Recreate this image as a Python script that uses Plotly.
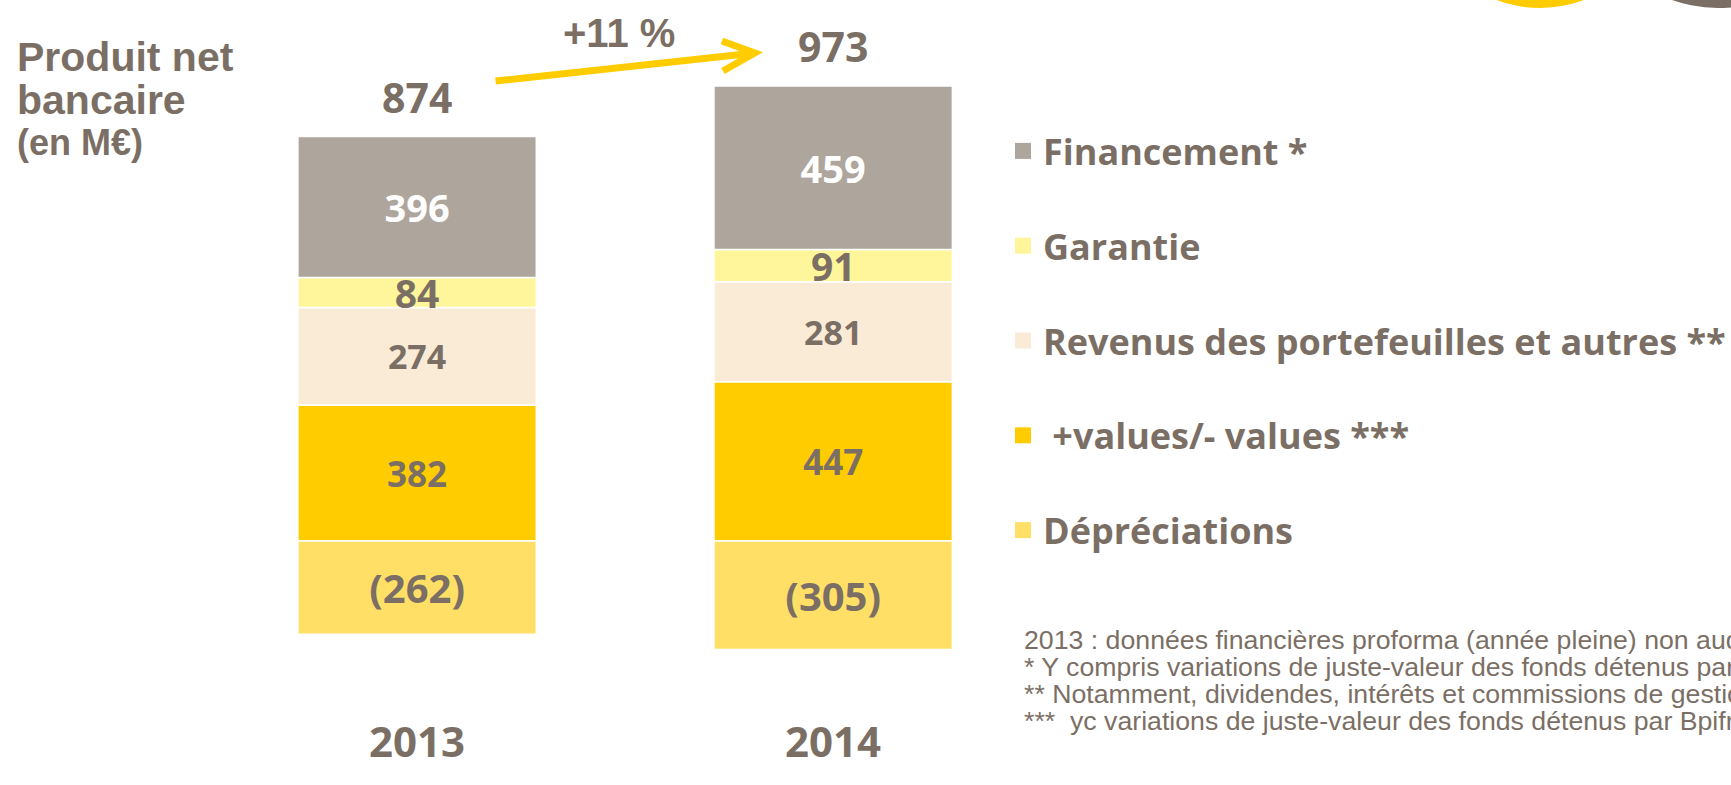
import plotly.graph_objects as go

# ---------------- data ----------------
years = ["2013", "2014"]
financement = [396, 459]
garantie = [84, 91]
revenus = [274, 281]
plus_values = [382, 447]
depreciations = [-262, -305]
growth_label = "+11 %"

series_names = {
    "financement": "Financement *",
    "garantie": "Garantie",
    "revenus": "Revenus des portefeuilles et autres **",
    "plus_values": "\u00a0+values/- values ***",
    "depreciations": "Dépréciations",
}
footnotes = [
    "2013 : données financières proforma (année pleine) non auditées",
    "* Y compris variations de juste-valeur des fonds détenus par Bpifrance",
    "** Notamment, dividendes, intérêts et commissions de gestion",
    "***  yc variations de juste-valeur des fonds détenus par Bpifrance",
]
title_lines = ["Produit net", "bancaire", "(en M€)"]

# ---------------- style ----------------
W, H = 1731, 785
TXT = "#7b6f65"
C_FIN = "#aea59c"
C_GAR = "#fff59a"
C_REV = "#faebd7"
C_PV = "#ffcc00"
C_DEP = "#ffdf66"
BOLD = "Open Sans"
ARIAL = "Liberation Sans, Arial"


def px(x):
    return x / W


def py(y):
    return 1 - y / H


fig = go.Figure()

stack = [
    ("plus_values", plus_values, C_PV, TXT, 35),
    ("revenus", revenus, C_REV, TXT, 34),
    ("garantie", garantie, C_GAR, TXT, 39),
    ("financement", financement, C_FIN, "white", 38),
    ("depreciations", depreciations, C_DEP, TXT, 40),
]
for key, vals, col, tcol, tsize in stack:
    labels = [f"({abs(v)})" if v < 0 else str(v) for v in vals]
    fig.add_trace(go.Bar(
        x=years, y=vals, name=series_names[key],
        marker=dict(color=col, line=dict(color="white", width=1.5)),
        text=labels, textposition="inside", insidetextanchor="middle",
        textangle=0, constraintext="none",
        textfont=dict(family=BOLD, size=tsize, color=tcol, weight="bold"),
        showlegend=False, hoverinfo="skip",
    ))

# legend entries (square swatches)
legend_order = [
    ("financement", C_FIN), ("garantie", C_GAR), ("revenus", C_REV),
    ("plus_values", C_PV), ("depreciations", C_DEP),
]
for i, (key, col) in enumerate(legend_order):
    fig.add_trace(go.Scatter(
        x=[None], y=[None], mode="markers", name=series_names[key],
        marker=dict(symbol="square", size=16, color=col),
        legendgroup=key, legendrank=i, showlegend=True, hoverinfo="skip",
    ))

totals = [sum(v) for v in zip(financement, garantie, revenus, plus_values, depreciations)]
tops = [sum(v) for v in zip(financement, garantie, revenus, plus_values)]

ann = []
for i, (yr, tot, top) in enumerate(zip(years, totals, tops)):
    ann.append(dict(x=i, y=top, xref="x", yref="y", text=str(tot), showarrow=False,
                    yanchor="middle", yshift=40,
                    font=dict(family=BOLD, size=41, color=TXT, weight="bold")))
    ann.append(dict(x=i, y=py(740), xref="x", yref="paper", text=yr, showarrow=False,
                    yanchor="middle",
                    font=dict(family=BOLD, size=42, color=TXT, weight="bold")))

# title
title_pos = [(57, 41), (100, 41), (143, 36)]
for line, (yc, fs) in zip(title_lines, title_pos):
    ann.append(dict(x=px(15), y=py(yc), xref="paper", yref="paper", text=line,
                    showarrow=False, xanchor="left", yanchor="middle",
                    font=dict(family=ARIAL, size=fs, color=TXT, weight="bold")))

# growth label
ann.append(dict(x=px(623), y=py(33), xref="paper", yref="paper", text=growth_label,
                showarrow=False, xanchor="center", yanchor="middle",
                font=dict(family=ARIAL, size=40, color=TXT, weight="bold")))

# footnotes
for i, t in enumerate(footnotes):
    ann.append(dict(x=px(1029), y=py(640 + 27 * i), xref="paper", yref="paper", text=t,
                    showarrow=False, xanchor="left", yanchor="middle",
                    font=dict(family=ARIAL, size=26.7, color=TXT)))

shapes = [
    # growth arrow
    dict(type="path", xref="paper", yref="paper",
         path=(f"M {px(499)},{py(81)} L {px(760)},{py(53)} "
               f"M {px(727)},{py(41)} L {px(760)},{py(53)} L {px(728)},{py(71)}"),
         line=dict(color=C_PV, width=7)),
    # logo fragments top-right
    dict(type="circle", xref="paper", yref="paper",
         x0=px(1551 - 125), x1=px(1551 + 125), y0=py(8), y1=py(8 - 250),
         fillcolor=C_PV, line=dict(width=0)),
    dict(type="circle", xref="paper", yref="paper",
         x0=px(1730 - 138), x1=px(1730 + 138), y0=py(8), y1=py(8 - 276),
         fillcolor=TXT, line=dict(width=0)),
]

fig.update_layout(
    width=W, height=H,
    margin=dict(l=0, r=0, t=0, b=0),
    paper_bgcolor="white", plot_bgcolor="white",
    barmode="relative", bargap=0.427,
    xaxis=dict(visible=False, range=[-1.0024, 3.1289], type="category"),
    yaxis=dict(visible=False, range=[-685.4, 1519.7]),
    showlegend=True,
    legend=dict(x=px(1010), y=py(121), xanchor="left", yanchor="top",
                traceorder="grouped", tracegroupgap=45, itemsizing="trace",
                itemwidth=30, bgcolor="rgba(0,0,0,0)",
                font=dict(family=BOLD, size=36, color=TXT, weight="bold")),
    annotations=ann,
    shapes=shapes,
)

fig.write_html("out.html", config={"displayModeBar": False},
               post_script="document.body.style.margin='0';")
